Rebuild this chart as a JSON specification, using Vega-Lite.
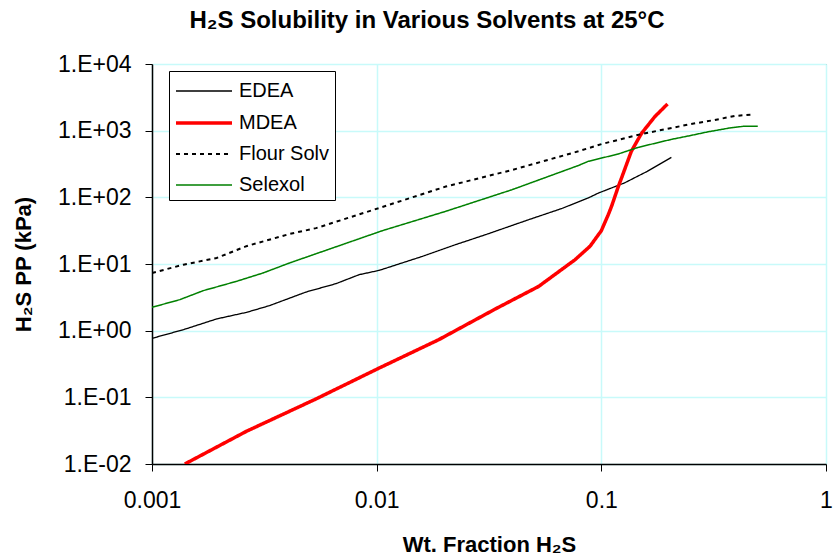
{
  "$schema": "https://vega.github.io/schema/vega-lite/v6.json",
  "autosize": {"type": "none"},
  "padding": {"left": 152, "top": 64, "right": 7, "bottom": 91},
  "width": 674,
  "height": 400,
  "background": "white",
  "config": {
    "font": "Liberation Sans",
    "view": {"stroke": "#808080", "strokeWidth": 1},
    "axis": {
      "labelFont": "Liberation Sans",
      "labelFontSize": 23,
      "labelColor": "black",
      "labelFlush": false,
      "labelOverlap": false,
      "titleFont": "Liberation Sans",
      "titleFontSize": 22,
      "titleFontWeight": "bold",
      "titleColor": "black",
      "domainColor": "black",
      "domainWidth": 1.5,
      "tickColor": "black",
      "tickSize": 7,
      "gridColor": "#C8FAFA",
      "gridWidth": 1.5,
      "gridOpacity": 1
    },
    "legend": {
      "title": null,
      "orient": "none",
      "legendX": 17,
      "legendY": 7,
      "strokeColor": "black",
      "fillColor": "white",
      "padding": 5,
      "symbolType": "M-2,0H2",
      "symbolSize": 784,
      "symbolOffset": 14,
      "labelFont": "Liberation Sans",
      "labelFontSize": 20,
      "labelColor": "black",
      "rowPadding": 6,
      "labelOffset": 19
    }
  },
  "title": {
    "text": "H₂S Solubility in Various Solvents at 25°C",
    "font": "Liberation Sans",
    "fontSize": 24,
    "fontWeight": "bold",
    "color": "black",
    "anchor": "middle",
    "dx": -62,
    "offset": 20
  },
  "data": {
    "values": [
      {"series": "EDEA", "x": 0.001, "y": 0.767},
      {"series": "EDEA", "x": 0.00138, "y": 1.035},
      {"series": "EDEA", "x": 0.00194, "y": 1.5},
      {"series": "EDEA", "x": 0.00263, "y": 1.88},
      {"series": "EDEA", "x": 0.00333, "y": 2.37},
      {"series": "EDEA", "x": 0.00485, "y": 3.8},
      {"series": "EDEA", "x": 0.00659, "y": 5.07},
      {"series": "EDEA", "x": 0.00836, "y": 6.92},
      {"series": "EDEA", "x": 0.01026, "y": 8.02},
      {"series": "EDEA", "x": 0.01596, "y": 13.0},
      {"series": "EDEA", "x": 0.02244, "y": 19.5},
      {"series": "EDEA", "x": 0.0305, "y": 27.5},
      {"series": "EDEA", "x": 0.0474, "y": 46.1},
      {"series": "EDEA", "x": 0.0667, "y": 68},
      {"series": "EDEA", "x": 0.0875, "y": 98},
      {"series": "EDEA", "x": 0.0971, "y": 116},
      {"series": "EDEA", "x": 0.127, "y": 165},
      {"series": "EDEA", "x": 0.16, "y": 245},
      {"series": "EDEA", "x": 0.205, "y": 398},

      {"series": "MDEA", "x": 0.0014, "y": 0.01},
      {"series": "MDEA", "x": 0.00263, "y": 0.0309},
      {"series": "MDEA", "x": 0.00537, "y": 0.0946},
      {"series": "MDEA", "x": 0.01026, "y": 0.275},
      {"series": "MDEA", "x": 0.0189, "y": 0.733},
      {"series": "MDEA", "x": 0.0337, "y": 2.11},
      {"series": "MDEA", "x": 0.0526, "y": 4.61},
      {"series": "MDEA", "x": 0.0764, "y": 11.6},
      {"series": "MDEA", "x": 0.0891, "y": 18.5},
      {"series": "MDEA", "x": 0.1, "y": 31.6},
      {"series": "MDEA", "x": 0.1074, "y": 55},
      {"series": "MDEA", "x": 0.111, "y": 73},
      {"series": "MDEA", "x": 0.119, "y": 145},
      {"series": "MDEA", "x": 0.123, "y": 195},
      {"series": "MDEA", "x": 0.136, "y": 490},
      {"series": "MDEA", "x": 0.151, "y": 912},
      {"series": "MDEA", "x": 0.173, "y": 1622},
      {"series": "MDEA", "x": 0.197, "y": 2512},

      {"series": "Flour Solv", "x": 0.001, "y": 7.33},
      {"series": "Flour Solv", "x": 0.00138, "y": 9.77},
      {"series": "Flour Solv", "x": 0.00194, "y": 12.3},
      {"series": "Flour Solv", "x": 0.00263, "y": 18.5},
      {"series": "Flour Solv", "x": 0.00409, "y": 28.2},
      {"series": "Flour Solv", "x": 0.00537, "y": 34.5},
      {"series": "Flour Solv", "x": 0.01026, "y": 69.2},
      {"series": "Flour Solv", "x": 0.0203, "y": 145},
      {"series": "Flour Solv", "x": 0.04, "y": 257},
      {"series": "Flour Solv", "x": 0.079, "y": 490},
      {"series": "Flour Solv", "x": 0.1005, "y": 631},
      {"series": "Flour Solv", "x": 0.151, "y": 890},
      {"series": "Flour Solv", "x": 0.251, "y": 1259},
      {"series": "Flour Solv", "x": 0.319, "y": 1445},
      {"series": "Flour Solv", "x": 0.392, "y": 1660},
      {"series": "Flour Solv", "x": 0.465, "y": 1738},

      {"series": "Selexol", "x": 0.001, "y": 2.24},
      {"series": "Selexol", "x": 0.00133, "y": 2.92},
      {"series": "Selexol", "x": 0.00169, "y": 3.98},
      {"series": "Selexol", "x": 0.00238, "y": 5.5},
      {"series": "Selexol", "x": 0.00312, "y": 7.33},
      {"series": "Selexol", "x": 0.00409, "y": 10.35},
      {"series": "Selexol", "x": 0.00637, "y": 17.4},
      {"series": "Selexol", "x": 0.0106, "y": 31.6},
      {"series": "Selexol", "x": 0.0203, "y": 61.7},
      {"series": "Selexol", "x": 0.04, "y": 130},
      {"series": "Selexol", "x": 0.079, "y": 300},
      {"series": "Selexol", "x": 0.0875, "y": 347},
      {"series": "Selexol", "x": 0.119, "y": 447},
      {"series": "Selexol", "x": 0.146, "y": 562},
      {"series": "Selexol", "x": 0.205, "y": 740},
      {"series": "Selexol", "x": 0.243, "y": 830},
      {"series": "Selexol", "x": 0.298, "y": 960},
      {"series": "Selexol", "x": 0.372, "y": 1096},
      {"series": "Selexol", "x": 0.427, "y": 1160},
      {"series": "Selexol", "x": 0.497, "y": 1160}
    ]
  },
  "mark": {"type": "line", "clip": true},
  "encoding": {
    "x": {
      "field": "x",
      "type": "quantitative",
      "scale": {"type": "log", "domain": [0.001, 1], "nice": false},
      "axis": {
        "title": "Wt. Fraction H₂S",
        "values": [0.001, 0.01, 0.1, 1],
        "format": ".3~f",
        "labelPadding": 18,
        "titlePadding": 22
      }
    },
    "y": {
      "field": "y",
      "type": "quantitative",
      "scale": {"type": "log", "domain": [0.01, 10000], "nice": false},
      "axis": {
        "title": "H₂S PP (kPa)",
        "values": [0.01, 0.1, 1, 10, 100, 1000, 10000],
        "labelExpr": "'1.E' + (round(log(datum.value)/LN10) >= 0 ? '+' : '-') + (abs(round(log(datum.value)/LN10)) < 10 ? '0' : '') + abs(round(log(datum.value)/LN10))",
        "labelPadding": 14,
        "titlePadding": 22
      }
    },
    "color": {
      "field": "series",
      "type": "nominal",
      "scale": {"domain": ["EDEA", "MDEA", "Flour Solv", "Selexol"], "range": ["#000000", "#FF0000", "#000000", "#008000"]}
    },
    "strokeDash": {
      "field": "series",
      "type": "nominal",
      "scale": {"domain": ["EDEA", "MDEA", "Flour Solv", "Selexol"], "range": [[1, 0], [1, 0], [4, 4], [1, 0]]}
    },
    "strokeWidth": {
      "field": "series",
      "type": "nominal",
      "scale": {"type": "ordinal", "domain": ["EDEA", "MDEA", "Flour Solv", "Selexol"], "range": [1.3, 3.5, 2, 1.5]}
    }
  }
}
